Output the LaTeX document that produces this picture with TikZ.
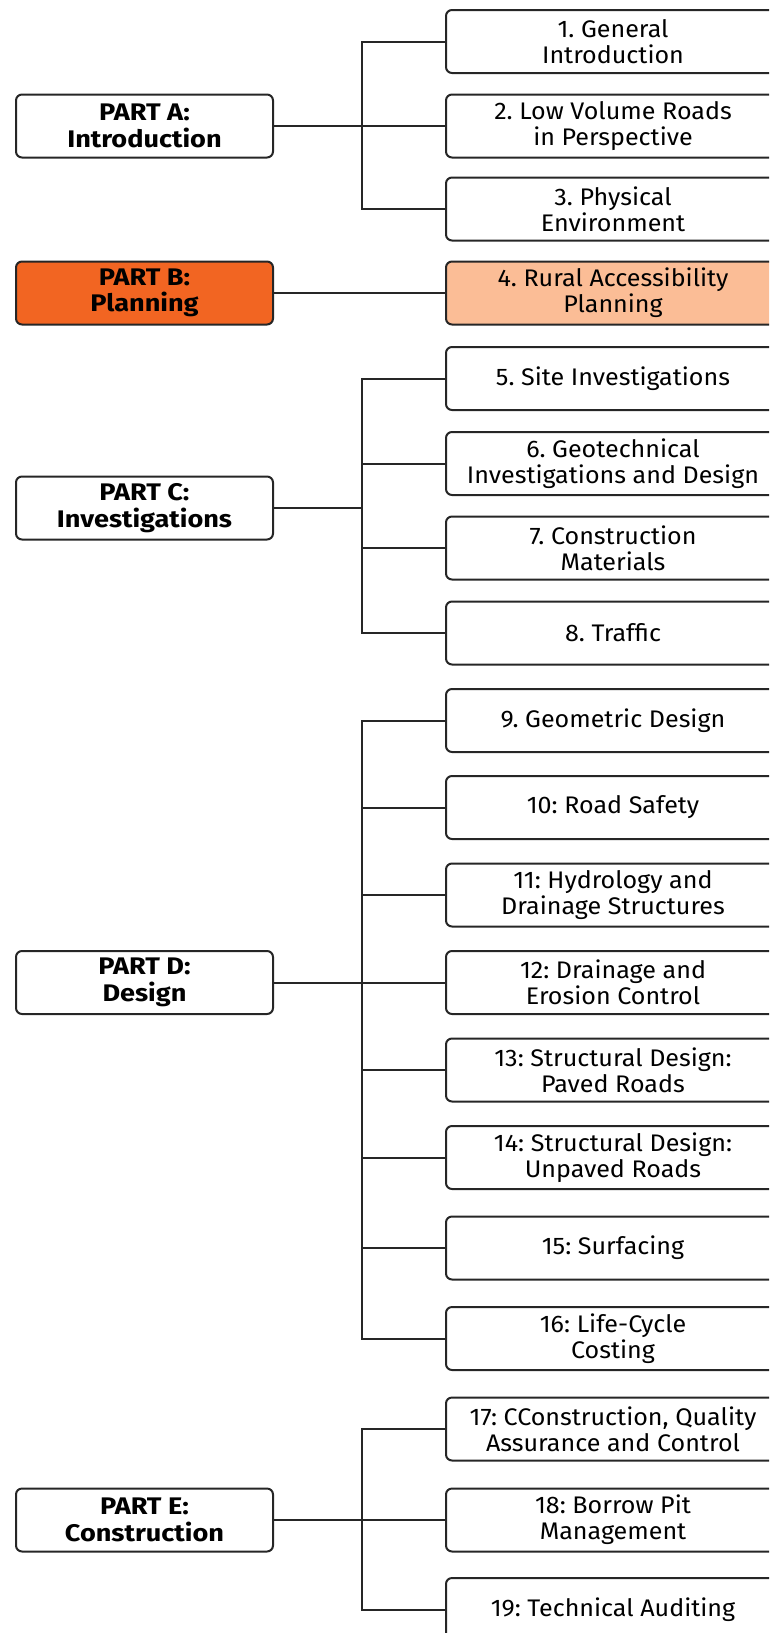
\documentclass[tikz,border=0pt]{standalone}
\usepackage{fontspec}
\setmainfont{Fira Sans}[FakeStretch=1.045, BoldFeatures={FakeStretch=1.13}]
\usepackage{tikz}

\definecolor{partorange}{HTML}{F26522}
\definecolor{chapterpeach}{HTML}{FBBD96}

\tikzset{
  partbox/.style={draw=black!85, line width=2pt, rounded corners=6pt, fill=white,
    minimum width=257pt, minimum height=63pt, inner sep=2pt, align=center,
    font=\frenchspacing\fontsize{24}{26.5}\selectfont\bfseries},
  chapbox/.style={draw=black!85, line width=2pt, rounded corners=6pt, fill=white,
    minimum width=334pt, minimum height=63pt, inner sep=2pt, align=center,
    font=\frenchspacing\fontsize{24}{26}\selectfont},
  link/.style={draw=black!85, line width=2pt}
}

\begin{document}
\begin{tikzpicture}[x=1pt, y=-1pt]
\useasboundingbox (0,0) rectangle (769,1633);
\clip (0,0) rectangle (769,1633);
% Parts on the left
\node[partbox] (partA) at (144.5, 126) {PART A:\\Introduction};
\node[partbox, fill=partorange] (partB) at (144.5, 293) {PART B:\\Planning};
\node[partbox] (partC) at (144.5, 508) {PART C:\\Investigations};
\node[partbox] (partD) at (144.5, 982.5) {PART D:\\Design};
\node[partbox] (partE) at (144.5, 1520) {PART E:\\Construction};
% Chapters on the right
\node[chapbox] (ch1) at (613, 41.5) {1. General\\Introduction};
\node[chapbox] (ch2) at (613, 126) {2. Low Volume Roads\\in Perspective};
\node[chapbox] (ch3) at (613, 209) {3. Physical\\Environment};
\node[chapbox, fill=chapterpeach] (ch4) at (613, 293) {4. Rural Accessibility\\Planning};
\node[chapbox] (ch5) at (613, 378.5) {5. Site Investigations};
\node[chapbox] (ch6) at (613, 463.5) {6. Geotechnical\\Investigations and Design};
\node[chapbox] (ch7) at (613, 548) {7. Construction\\Materials};
\node[chapbox] (ch8) at (613, 633) {8. Traffic};
\node[chapbox] (ch9) at (613, 720.5) {9. Geometric Design};
\node[chapbox] (ch10) at (613, 807.5) {10: Road Safety};
\node[chapbox] (ch11) at (613, 895) {11: Hydrology and\\Drainage Structures};
\node[chapbox] (ch12) at (613, 982.5) {12: Drainage and\\Erosion Control};
\node[chapbox] (ch13) at (613, 1070) {13: Structural Design:\\Paved Roads};
\node[chapbox] (ch14) at (613, 1157.5) {14: Structural Design:\\Unpaved Roads};
\node[chapbox] (ch15) at (613, 1248) {15: Surfacing};
\node[chapbox] (ch16) at (613, 1338.5) {16: Life-Cycle\\Costing};
\node[chapbox] (ch17) at (613, 1429) {17: CConstruction, Quality\\Assurance and Control};
\node[chapbox] (ch18) at (613, 1520) {18: Borrow Pit\\Management};
\node[chapbox] (ch19) at (613, 1609.5) {19: Technical Auditing};
% Tree connectors: trunk, spine, branches
\draw[link] (partA.east) -- ++(88,0) coordinate (jA);
\draw[link] (ch1.west) -- (ch1.west -| jA) -- (ch3.west -| jA) -- (ch3.west);
\draw[link] (jA) -- (ch2.west);
\draw[link] (partB.east) -- (ch4.west);
\draw[link] (partC.east) -- ++(88,0) coordinate (jC);
\draw[link] (ch5.west) -- (ch5.west -| jC) -- (ch8.west -| jC) -- (ch8.west);
\foreach \c in {6,7} \draw[link] (ch\c.west) -- (ch\c.west -| jC);
\draw[link] (partD.east) -- ++(88,0) coordinate (jD);
\draw[link] (ch9.west) -- (ch9.west -| jD) -- (ch16.west -| jD) -- (ch16.west);
\foreach \c in {10,...,15} \draw[link] (ch\c.west) -- (ch\c.west -| jD);
\draw[link] (partE.east) -- ++(88,0) coordinate (jE);
\draw[link] (ch17.west) -- (ch17.west -| jE) -- (ch19.west -| jE) -- (ch19.west);
\draw[link] (jE) -- (ch18.west);
\end{tikzpicture}
\end{document}
